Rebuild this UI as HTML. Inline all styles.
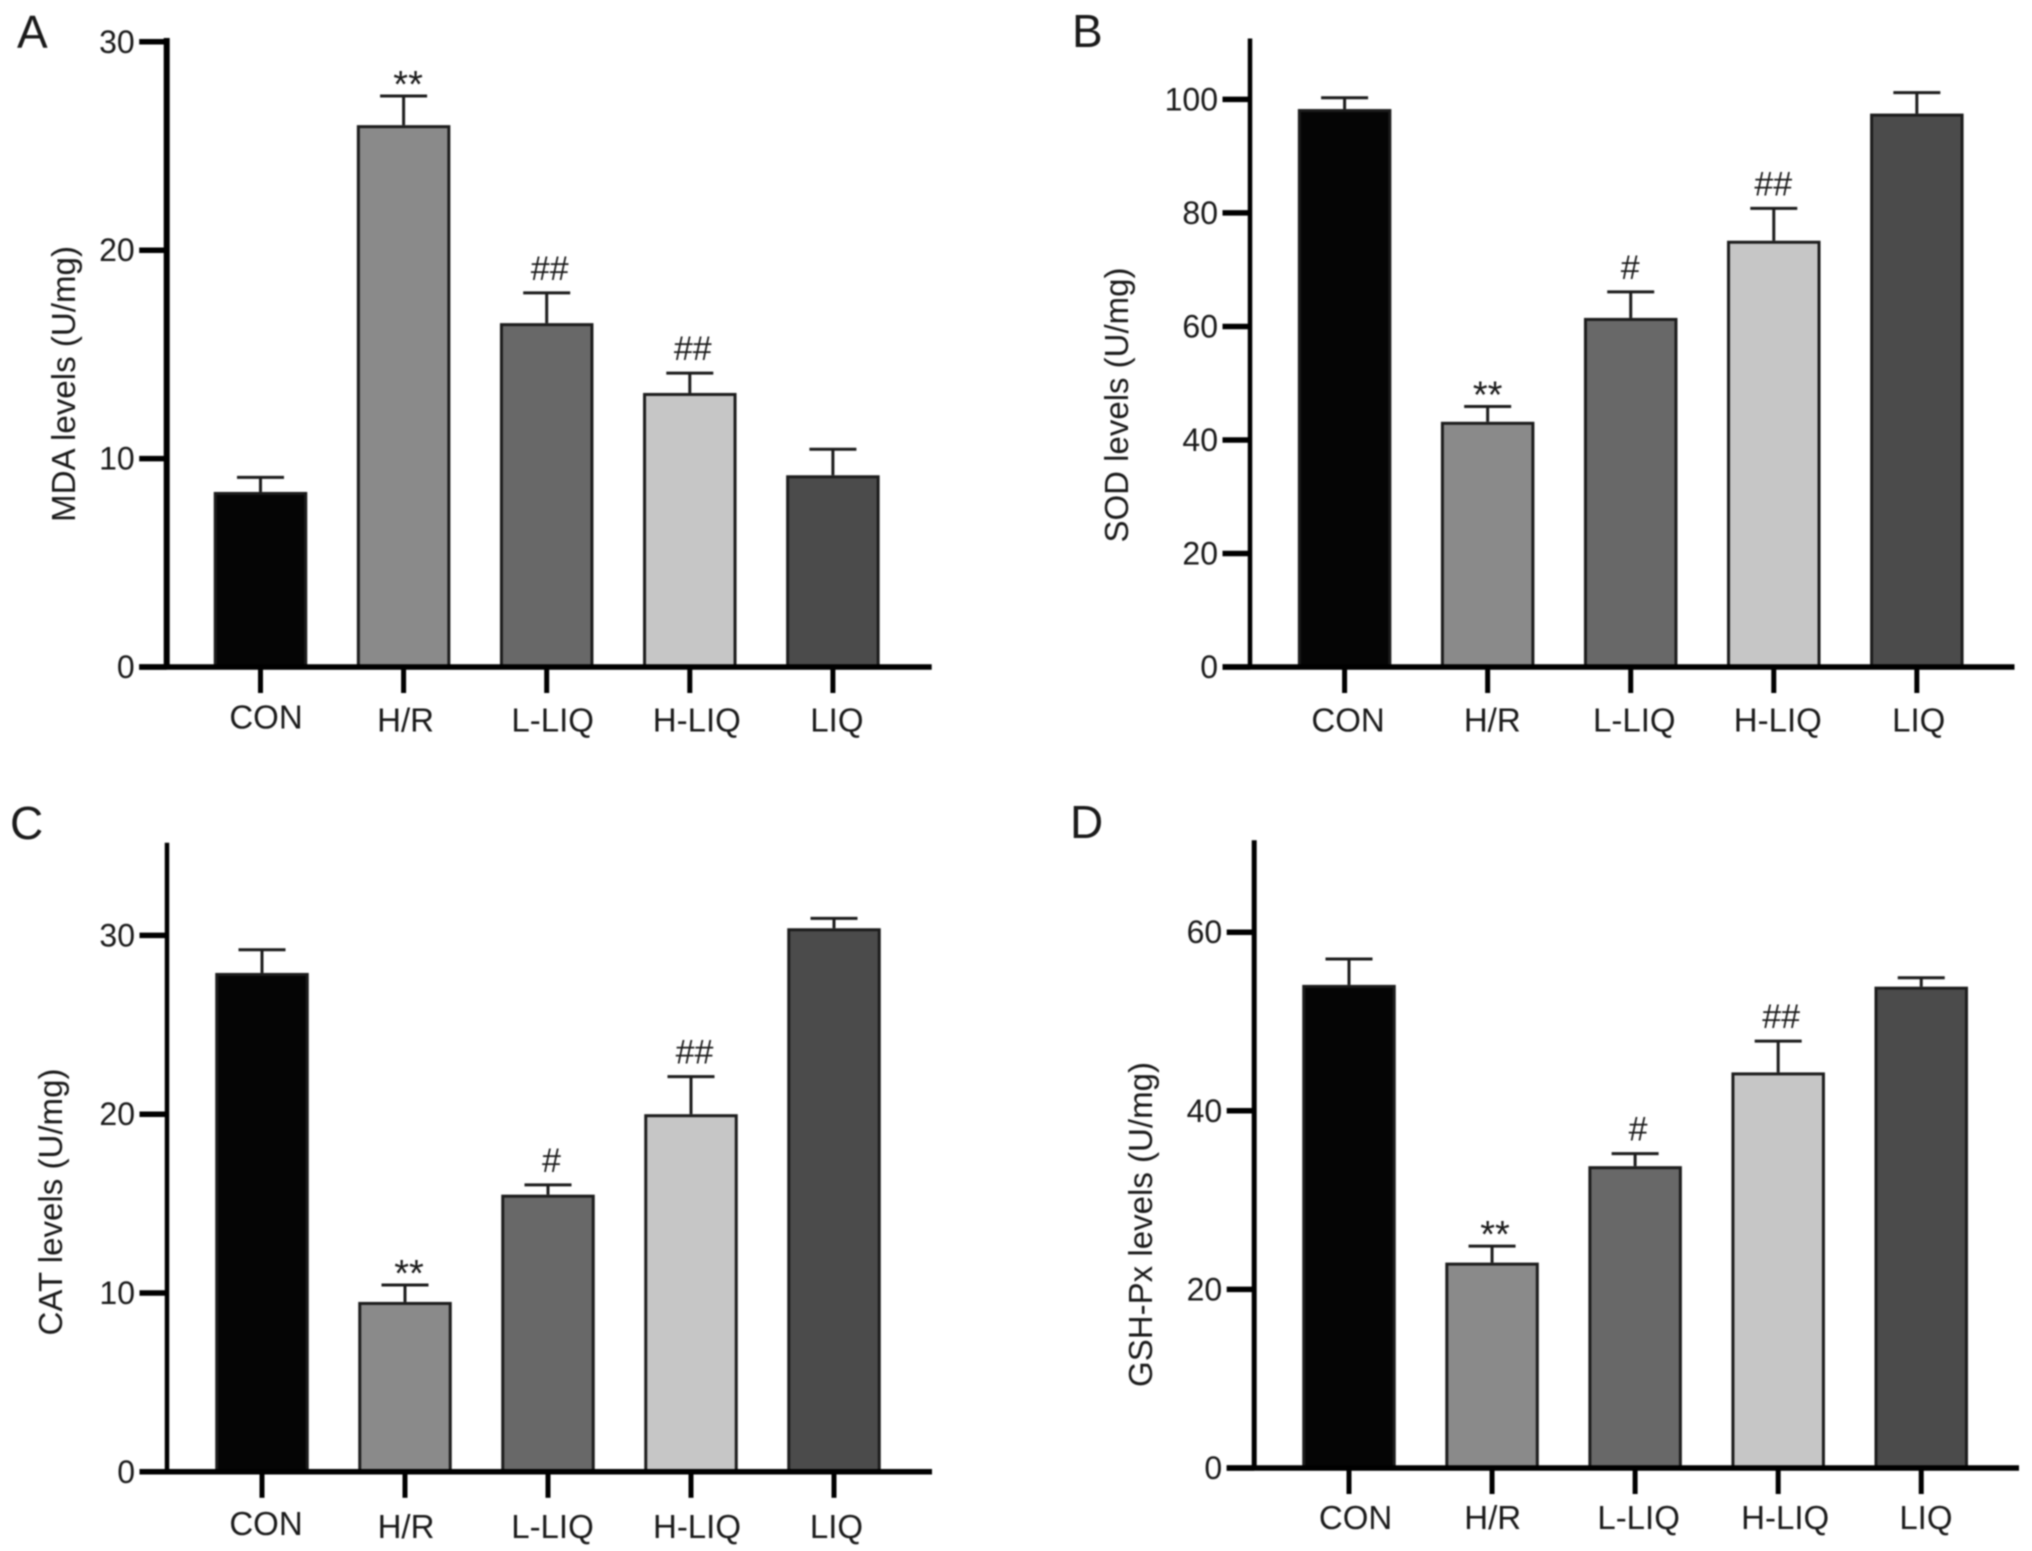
<!DOCTYPE html>
<html lang="en">
<head>
<meta charset="utf-8">
<title>Oxidative stress marker levels</title>
<style>
html,body{margin:0;padding:0;background:#fff;width:2032px;height:1551px;overflow:hidden}
svg{display:block;filter:blur(0.8px)}
text{font-family:"Liberation Sans",Arial,sans-serif;fill:#1a1a1a}
</style>
</head>
<body>
<svg id="figure" xmlns="http://www.w3.org/2000/svg" width="2032" height="1551" viewBox="0 0 2032 1551">
  <rect x="0" y="0" width="2032" height="1551" fill="#fff"/>
  <text x="17" y="48" font-size="46">A</text>
  <text x="1072" y="47" font-size="46">B</text>
  <text x="10" y="839" font-size="46">C</text>
  <text x="1070" y="838" font-size="46">D</text>
  <text transform="translate(75 384) rotate(-90)" text-anchor="middle" font-size="33" textLength="276" lengthAdjust="spacingAndGlyphs">MDA levels (U/mg)</text>
  <text transform="translate(1128 405) rotate(-90)" text-anchor="middle" font-size="33" textLength="275" lengthAdjust="spacingAndGlyphs">SOD levels (U/mg)</text>
  <text transform="translate(62 1202) rotate(-90)" text-anchor="middle" font-size="33" textLength="267" lengthAdjust="spacingAndGlyphs">CAT levels (U/mg)</text>
  <text transform="translate(1152 1224.5) rotate(-90)" text-anchor="middle" font-size="33" textLength="325" lengthAdjust="spacingAndGlyphs">GSH-Px levels (U/mg)</text>
</svg>
<script>
// Shared categories
const categories = ['CON', 'H/R', 'L-LIQ', 'H-LIQ', 'LIQ'];

// Panel A: MDA
const mdaValues = [8.4, 26.0, 16.5, 13.15, 9.2];
const mdaErrorTops = [9.1, 27.4, 17.95, 14.1, 10.45];
const mdaMarks = ['', '**', '##', '##', ''];
const mdaTicks = [0, 10, 20, 30];

// Panel B: SOD
const sodValues = [98.3, 43.2, 61.5, 75.1, 97.5];
const sodErrorTops = [100.3, 45.9, 66.1, 80.8, 101.2];
const sodMarks = ['', '**', '#', '##', ''];
const sodTicks = [0, 20, 40, 60, 80, 100];

// Panel C: CAT
const catValues = [27.9, 9.5, 15.5, 20.0, 30.4];
const catErrorTops = [29.2, 10.45, 16.05, 22.1, 30.95];
const catMarks = ['', '**', '#', '##', ''];
const catTicks = [0, 10, 20, 30];

// Panel D: GSH-Px
const gshValues = [54.1, 23.0, 33.8, 44.3, 53.9];
const gshErrorTops = [57.0, 24.85, 35.2, 47.8, 54.9];
const gshMarks = ['', '**', '#', '##', ''];
const gshTicks = [0, 20, 40, 60];

const SVG_NS = 'http://www.w3.org/2000/svg';
const figure = document.getElementById('figure');
const barFills = ['#050505', '#8a8a8a', '#686868', '#c6c6c6', '#4b4b4b'];
const INK = '#1c1c1c';

function make(tag, attrs, parent) {
  const node = document.createElementNS(SVG_NS, tag);
  for (const key in attrs) node.setAttribute(key, attrs[key]);
  parent.appendChild(node);
  return node;
}

function drawPanel(cfg, values, errorTops, marks, ticks) {
  const group = make('g', {}, figure);
  
  

  const yPx = function (v) { return cfg.baseline - v * cfg.unit; };
  const xPx = function (i) { return cfg.firstX + i * cfg.step; };
  const barW = 93.5;
  const capHalf = 23.5;

  categories.forEach(function (cat, i) {
    const cx = xPx(i);
    const top = yPx(values[i]);
    const errTop = yPx(errorTops[i]);

    const stem = make('line', { x1: cx, x2: cx, y1: errTop, y2: top, stroke: INK, 'stroke-width': 3 }, group);
    
    

    const cap = make('line', { x1: cx - capHalf, x2: cx + capHalf, y1: errTop, y2: errTop, stroke: INK, 'stroke-width': 3 }, group);
    
    

    const bar = make('rect', { x: cx - barW / 2 + 1.5, y: top + 1.5, width: barW - 3, height: Math.max(0, cfg.baseline - top - 1.5), fill: barFills[i], stroke: INK, 'stroke-width': 3 }, group);
    
    

    const xTick = make('line', { x1: cx, x2: cx, y1: cfg.baseline, y2: cfg.baseline + 26, stroke: '#000', 'stroke-width': 5 }, group);
    
    

    const label = make('text', { x: cx + cfg.labelNudge[i], y: cfg.labelY + (i === 0 ? cfg.conLift : 0), 'text-anchor': 'middle', 'font-size': 33 }, group);
    label.textContent = cat;
    
    

    if (marks[i]) {
      const isStar = marks[i] === '**';
      const note = make('text', {
        x: cx + (isStar ? cfg.starNudge : cfg.hashNudge),
        y: errTop + (isStar ? 1 : -13),
        'text-anchor': 'middle',
        'font-size': isStar ? 38 : 34
      }, group);
      note.textContent = marks[i];
      
      
    }
  });

  const yAxis = make('line', { x1: cfg.axisX, x2: cfg.axisX, y1: cfg.axisTop, y2: cfg.baseline + 2.5, stroke: '#000', 'stroke-width': cfg.axisW }, group);
  
  

  const xAxis = make('line', { x1: cfg.axisX - 27.5, x2: cfg.axisRight, y1: cfg.baseline, y2: cfg.baseline, stroke: '#000', 'stroke-width': 5.5 }, group);
  
  

  ticks.forEach(function (t) {
    const y = yPx(t);
    const tick = make('line', { x1: cfg.axisX - 27.5, x2: cfg.axisX, y1: y, y2: y, stroke: '#000', 'stroke-width': 5.5 }, group);
    
    

    const tickLabel = make('text', { x: cfg.axisX - 32, y: y + 11, 'text-anchor': 'end', 'font-size': 32 }, group);
    tickLabel.textContent = String(t);
    
    
  });
}

drawPanel({ id: 'a', axisX: 166.7, axisTop: 38, axisW: 6, axisRight: 931.7, baseline: 667, unit: 20.84, firstX: 260.5, step: 143.1,
  labelY: 731.5, conLift: -3, labelNudge: [5.5, 2, 6, 7, 4], starNudge: 4.5, hashNudge: 3 },
  mdaValues, mdaErrorTops, mdaMarks, mdaTicks);

drawPanel({ id: 'b', axisX: 1250, axisTop: 38.5, axisW: 4.5, axisRight: 2014.5, baseline: 667, unit: 5.676, firstX: 1344.6, step: 143.06,
  labelY: 731.5, conLift: 0, labelNudge: [3.5, 4.6, 3.6, 4, 1.9], starNudge: 0, hashNudge: -0.5 },
  sodValues, sodErrorTops, sodMarks, sodTicks);

drawPanel({ id: 'c', axisX: 167, axisTop: 842.8, axisW: 4.5, axisRight: 932, baseline: 1471.8, unit: 17.88, firstX: 262, step: 143,
  labelY: 1538, conLift: -3, labelNudge: [4, 1, 4.5, 6, 2.5], starNudge: 4, hashNudge: 3.5 },
  catValues, catErrorTops, catMarks, catTicks);

drawPanel({ id: 'd', axisX: 1254.2, axisTop: 840.3, axisW: 5, axisRight: 2019, baseline: 1468, unit: 8.93, firstX: 1349, step: 143.06,
  labelY: 1529, conLift: 0, labelNudge: [6.6, 0.6, 3.5, 7, 4.7], starNudge: 3, hashNudge: 3 },
  gshValues, gshErrorTops, gshMarks, gshTicks);
</script>
</body>
</html>
